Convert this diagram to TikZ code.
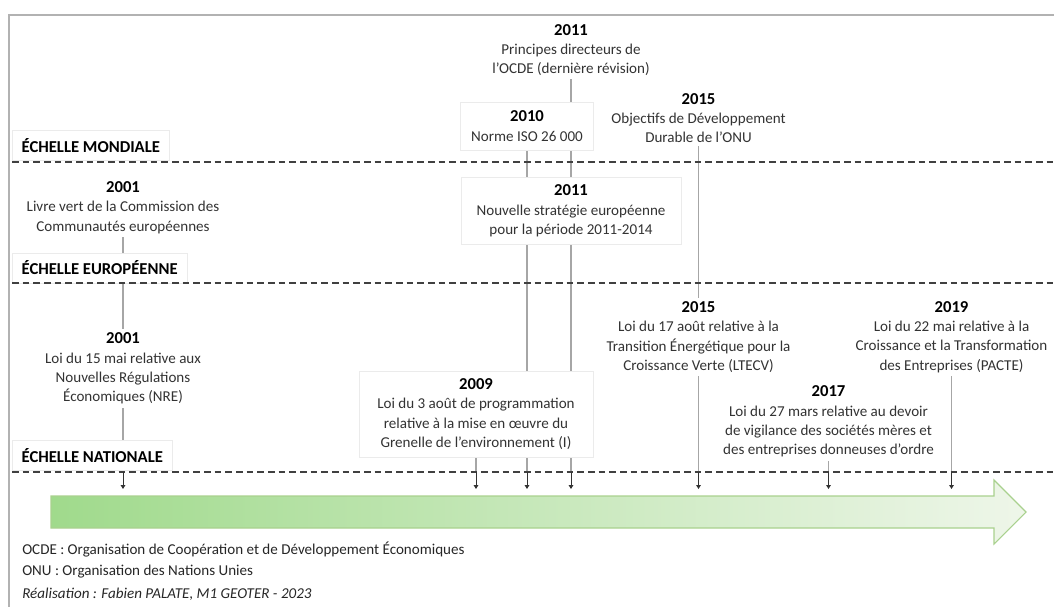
\documentclass[tikz,border=0pt]{standalone}
\usepackage{fontspec}
\setmainfont{Carlito}
\usetikzlibrary{arrows.meta}
\pgfdeclarelayer{background}
\pgfsetlayers{background,main}
\definecolor{vertfonce}{HTML}{A0DA8C}
\definecolor{vertclair}{HTML}{EEF6E9}
\definecolor{vertbord}{HTML}{A9D18E}
\newcommand{\annee}[1]{{\fontsize{12.5}{15}\selectfont\bfseries\color{black}#1}}
\tikzset{
  evt/.style={align=center, fill=white, inner sep=2.5pt, text=black!80, font=\fontsize{11.3}{14.5}\selectfont},
  evtbox/.style={evt, draw=black!8},
  echelle/.style={anchor=west, fill=white, draw=black!8, inner xsep=7pt, minimum height=22.5pt, font=\fontsize{12.5}{15}\selectfont\bfseries},
  legende/.style={anchor=west, inner sep=0pt, text=black!85, font=\fontsize{11.3}{14.5}\selectfont},
  lien/.style={black!35, line width=0.8pt},
  repere/.style={black!80, line width=0.7pt, -{Triangle[width=3.5pt,length=3pt]}},
  separation/.style={draw=black!75, line width=1pt, dash pattern=on 5pt off 3pt}
}
\begin{document}
\begin{tikzpicture}[x=0.75pt, y=-0.75pt]
  \useasboundingbox (0,0) rectangle (1054,607);
  \draw[black!30, line width=1.5pt] (9,607) -- (9,15) -- (1054,15);
  \shadedraw[left color=vertfonce, right color=vertclair, draw=vertbord, line width=0.8pt]
    (51,496) -- (994,496) -- (994,480) -- (1026,512) -- (994,544) -- (994,528) -- (51,528) -- cycle;

  \node[evt] (ocde) at (571,50) {\annee{2011}\\Principes directeurs de\\l’OCDE (dernière révision)};
  \node[evtbox, minimum width=99.75pt, minimum height=36pt] (iso) at (527,126) {\annee{2010}\\Norme ISO 26 000};
  \node[evt] (odd) at (698.5,118) {\annee{2015}\\Objectifs de Développement\\Durable de l’ONU};
  \node[evt] (livre) at (123,207.5) {\annee{2001}\\Livre vert de la Commission des\\Communautés européennes};
  \node[evtbox, minimum width=165pt, minimum height=50pt] (eu) at (571,211) {\annee{2011}\\Nouvelle stratégie européenne\\pour la période 2011-2014};
  \node[evt] (nre) at (123,368.5) {\annee{2001}\\Loi du 15 mai relative aux\\Nouvelles Régulations\\Économiques (NRE)};
  \node[evt] (ltecv) at (698.5,337) {\annee{2015}\\Loi du 17 août relative à la\\Transition Énergétique pour la\\Croissance Verte (LTECV)};
  \node[evt] (pacte) at (951.5,337) {\annee{2019}\\Loi du 22 mai relative à la\\Croissance et la Transformation\\des Entreprises (PACTE)};
  \node[evtbox, minimum width=175.5pt, minimum height=64.5pt] (grenelle) at (476,414) {\annee{2009}\\Loi du 3 août de programmation\\relative à la mise en œuvre du\\Grenelle de l’environnement (I)};
  \node[evt] (vigilance) at (828.5,421.5) {\annee{2017}\\Loi du 27 mars relative au devoir\\de vigilance des sociétés mères et\\des entreprises donneuses d’ordre};

  \node[echelle] (mondiale) at (12,145.5) {ÉCHELLE MONDIALE};
  \node[echelle] (europe) at (12,268) {ÉCHELLE EUROPÉENNE};
  \node[echelle] (nationale) at (12,455.5) {ÉCHELLE NATIONALE};

  \foreach \y in {162,283,472}
    \draw[separation] (12,\y) -- (1054,\y);

  \foreach \an/\x in {2001/123, 2009/476, 2010/527, 2011/571, 2015/698.5, 2017/828.5, 2019/951.5} {
    \coordinate (d\an) at (\x,472);
    \coordinate (t\an) at (\x,489);
    \path[repere] (d\an) edge (t\an);
  }

  \begin{pgfonlayer}{background}
    \path[lien] (livre) edge (nre);
    \path[lien] (nre) edge (d2001);
    \path[lien] (ocde) edge (d2011);
    \path[lien] (iso) edge (d2010);
    \path[lien] (odd) edge (ltecv);
    \path[lien] (ltecv) edge (d2015);
    \path[lien] (grenelle) edge (d2009);
    \path[lien] (vigilance) edge (d2017);
    \path[lien] (pacte) edge (d2019);
  \end{pgfonlayer}

  \node[legende] (ocdeleg) at (22,549) {OCDE : Organisation de Coopération et de Développement Économiques};
  \node[legende] (onuleg) at (22,572) {ONU : Organisation des Nations Unies};
  \node[legende] (credit) at (22,594) {\itshape Réalisation : Fabien PALATE, M1 GEOTER - 2023};
\end{tikzpicture}
\end{document}
